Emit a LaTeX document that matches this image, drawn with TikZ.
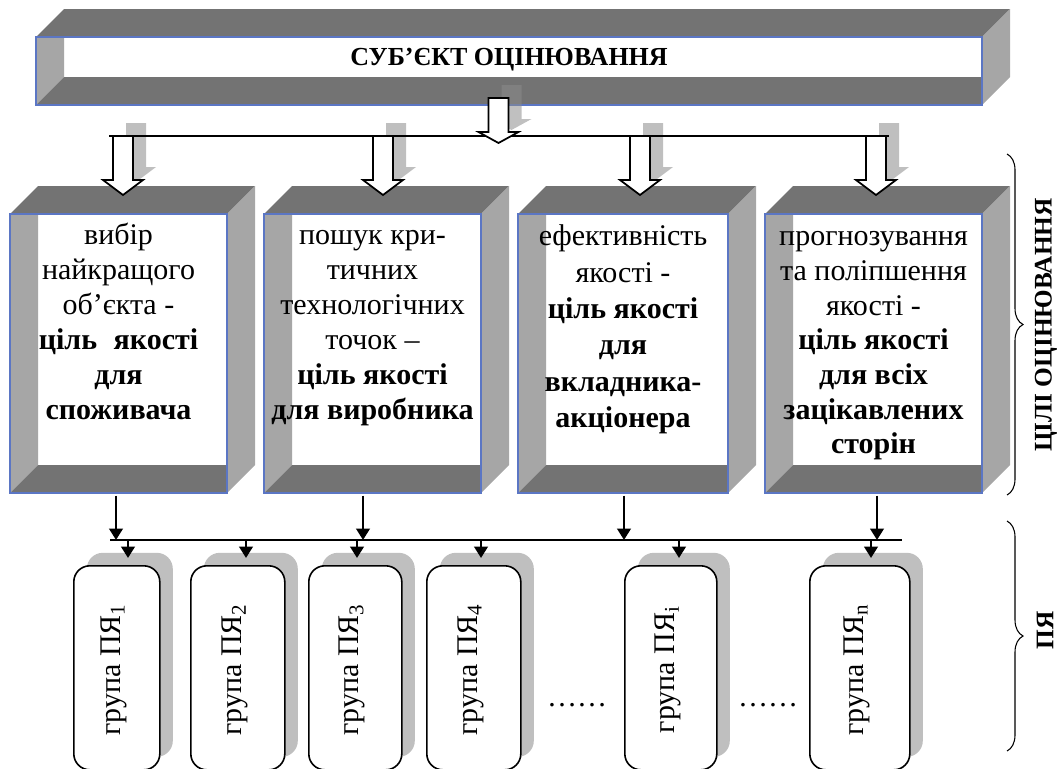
\documentclass[tikz,border=0pt]{standalone}
\usepackage{fontspec}
\setmainfont{Liberation Serif}
\usetikzlibrary{arrows.meta,positioning,calc,fit,shadows,decorations.pathreplacing}
\definecolor{darkface}{RGB}{115,115,115}
\definecolor{lightface}{RGB}{166,166,166}
\definecolor{frameblue}{RGB}{91,118,196}
\definecolor{shadegray}{RGB}{191,191,191}

% open box seen from the front: left, top, right, bottom, name
\newcommand{\hollowbox}[5]{%
  \fill[darkface] (#1,#2) -- (#1+28,#2-28) -- (#3+28,#2-28) -- (#3,#2) -- cycle;
  \fill[lightface] (#3,#2) -- (#3+28,#2-28) -- (#3+28,#4-28) -- (#3,#4) -- cycle;
  \fill[white] (#1+28,#2) rectangle (#3,#4-28);
  \fill[lightface] (#1,#2) -- (#1+28,#2) -- (#1+28,#4-28) -- (#1,#4) -- cycle;
  \fill[darkface] (#1,#4) -- (#1+28,#4-28) -- (#3,#4-28) -- (#3,#4) -- cycle;
  \coordinate (#5nw) at (#1,#2); \coordinate (#5se) at (#3,#4);
  \node[front,fit=(#5nw)(#5se)] (#5) {};}
% block arrow: start, head base, tip (relative)
\newcommand{\shadearrow}[3]{\fill[arrowshade,shift={(#1)}] (3,-13) -- (3,#2-13) -- (-7,#2-13) -- (13,#3-13) -- (33,#2-13) -- (23,#2-13) -- (23,-13) -- cycle;}
\newcommand{\hollowarrow}[3]{\draw[hollow,shift={(#1)}] (-10,0) -- (-10,#2) -- (-20,#2) -- (0,#3) -- (20,#2) -- (10,#2) -- (10,0) -- cycle;}

\begin{document}
\begin{tikzpicture}[x=0.75pt,y=-0.75pt,>=Stealth,
  front/.style={draw=frameblue,line width=0.8pt,inner sep=0pt},
  hollow/.style={draw=black,fill=white,line width=1.3pt,line join=miter},
  arrowshade/.style={fill=black!45,fill opacity=.55},
  bus/.style={line width=2pt},
  thinarr/.style={line width=2pt,-{Triangle[length=8.5pt,width=10pt]}},
  goaltext/.style={align=center,anchor=north,inner sep=0pt},
  grp/.style={draw,line width=1.2pt,fill=white,rounded corners=12pt,anchor=north west,inner sep=0pt,
    minimum height=153pt,drop shadow={fill=shadegray,opacity=1,shadow xshift=9.75pt,shadow yshift=9.75pt}},
  grplabel/.style={rotate=90,inner sep=0pt,font=\fontsize{22.5}{26}\selectfont},
  sidelabel/.style={rotate=90,inner sep=0pt,font=\bfseries\fontsize{19}{22}\selectfont},
  brace/.style={decorate,decoration={brace,amplitude=12pt},line width=0.8pt}]
\useasboundingbox (0,0) rectangle (1062,768);

% subject of evaluation
\hollowbox{36}{37}{982}{105}{subj}
\node[font=\bfseries\fontsize{19.5}{22}\selectfont,anchor=base] (subjtext) at ([yshift=4.1pt]subj.center) {СУБ’ЄКТ ОЦІНЮВАННЯ};
\coordinate (a0) at (498.5,98);
\shadearrow{a0}{34}{45}
\coordinate (b1w) at (109,136);
\coordinate (b1e) at (889,136);
\coordinate (a1) at (123,136);
\coordinate (a2) at (383,136);
\coordinate (a3) at (640,136);
\coordinate (a4) at (876,136);
\foreach \a in {a1,a2,a3,a4} {\fill[shadegray,shift={(\a)}] (3,-13) -- (3,31) -- (-7,31) -- (13,46) -- (33,31) -- (23,31) -- (23,-13) -- cycle;}
\draw[bus] (b1w) -- (b1e);
\hollowarrow{a0}{34}{45}

% goals of evaluation
\hollowbox{10}{214}{227}{493}{g1}
\hollowbox{264}{214}{481}{493}{g2}
\hollowbox{518}{214}{728}{493}{g3}
\hollowbox{765}{214}{982}{493}{g4}
\foreach \a in {a1,a2,a3,a4} {\hollowarrow{\a}{44}{59}}

\node[goaltext,font=\fontsize{22.5}{26.25}\selectfont] (t1) at ([yshift=-4.9pt]g1.north)
  {\strut вибір\\найкращого\\об’єкта -\\\textbf{ціль\hspace{.3em} якості}\\\textbf{для}\\\textbf{споживача}};
\node[goaltext,font=\fontsize{22.5}{26.25}\selectfont] (t2) at ([yshift=-4.9pt]g2.north)
  {\strut пошук кри-\\тичних\\технологічних\\точок –\\\textbf{ціль якості}\\\textbf{для виробника}};
\node[goaltext,font=\fontsize{22.5}{27.3}\selectfont] (t3) at ([yshift=-4.9pt]g3.north)
  {\strut ефективність\\якості -\\\textbf{ціль якості}\\\textbf{для}\\\textbf{вкладника-}\\\textbf{акціонера}};
\node[goaltext,font=\fontsize{22.5}{26}\selectfont] (t4) at ([yshift=-5.8pt]g4.north)
  {\strut прогнозування\\та поліпшення\\якості -\\\textbf{ціль якості}\\\textbf{для всіх}\\\textbf{зацікавлених}\\\textbf{сторін}};

% groups of indicators
\coordinate (b2w) at (110,540);
\coordinate (b2e) at (902,540);
\coordinate (d1) at (116,540);
\coordinate (d2) at (363,540);
\coordinate (d3) at (624,540);
\coordinate (d4) at (877,540);
\draw[bus] (b2w) -- (b2e);
\foreach \i in {1,2,3,4} {\draw[thinarr] ([yshift=-1.5pt]g\i.south -| d\i) -- (d\i);}

\foreach \l/\r/\u/\s [count=\n] in {73/159/128/1, 190/284/246/2, 308/401/357/3, 426/520/481/4, 624/716/679/i, 809/909/871/n} {
  \node[grp,minimum width={(\r-\l)*0.75pt}] (q\n) at (\l,565) {};
  \node[grplabel] (lab\n) at ([xshift=-2.25pt,yshift=-1.5pt]q\n.center) {група ПЯ\textsubscript{\s}};
  \coordinate (u\n) at (\u,540);
  \draw[thinarr,shorten >=5.25pt] (u\n) -- (u\n |- q\n.north);
}
\node[font=\fontsize{22.5}{26}\selectfont,anchor=base] (dots1) at (577,706) {……};
\node[font=\fontsize{22.5}{26}\selectfont,anchor=base] (dots2) at (768,706) {……};

% braces on the right
\coordinate (br1t) at (1007,154);
\coordinate (br1b) at (1007,495);
\coordinate (br2t) at (1007,521);
\coordinate (br2b) at (1007,751);
\draw[brace] (br1t) -- (br1b);
\draw[brace] (br2t) -- (br2b);
\node[sidelabel] (goalslabel) at (1046,325) {ЦІЛІ ОЦІНЮВАННЯ};
\node[sidelabel] (pilabel) at (1045,630) {ПЯ};
\end{tikzpicture}
\end{document}
